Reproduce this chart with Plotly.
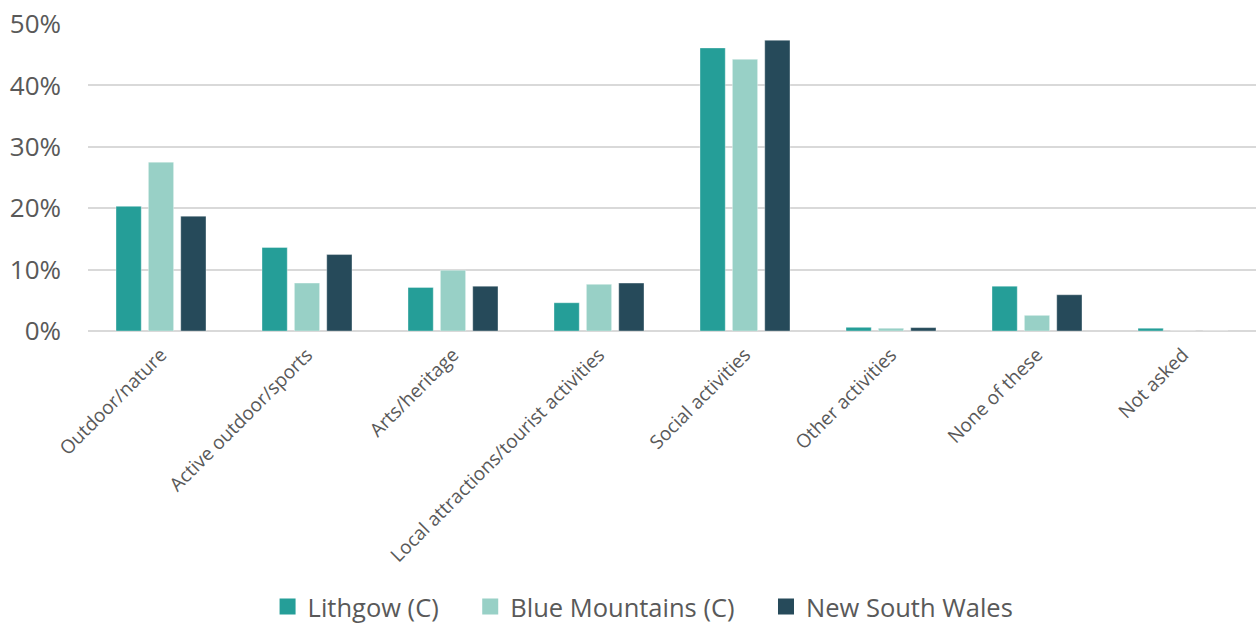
import plotly.graph_objects as go

categories = [
    "Outdoor/nature",
    "Active outdoor/sports",
    "Arts/heritage",
    "Local attractions/tourist activities",
    "Social activities",
    "Other activities",
    "None of these",
    "Not asked",
]
lithgow = [20.3, 13.6, 7.1, 4.6, 46.1, 0.6, 7.3, 0.45]
blue_mountains = [27.5, 7.8, 9.9, 7.6, 44.25, 0.45, 2.55, 0.0]
nsw = [18.7, 12.45, 7.3, 7.8, 47.35, 0.55, 5.9, 0.0]

series = [
    ("Lithgow (C)", lithgow, "#259E98"),
    ("Blue Mountains (C)", blue_mountains, "#98D0C6"),
    ("New South Wales", nsw, "#264A5A"),
]

font_family = "Open Sans, Segoe UI, sans-serif"
text_color = "#595959"
legend_pad = "\u00a0" * 4

fig = go.Figure()
for name, values, color in series:
    fig.add_trace(
        go.Bar(
            name=name,
            x=categories,
            y=[v / 100 for v in values],
            marker=dict(color=color, line=dict(color="rgba(255,255,255,0.35)", width=1)),
            showlegend=False,
        )
    )

# Legend entries with larger square swatches
for i, (name, values, color) in enumerate(series):
    label = name + (legend_pad if i < len(series) - 1 else "")
    fig.add_trace(
        go.Scatter(
            name=label,
            x=[None],
            y=[None],
            mode="markers",
            marker=dict(symbol="square", size=16, color=color),
            showlegend=True,
        )
    )

fig.update_layout(
    width=1256,
    height=626,
    margin=dict(l=88, r=0, t=24, b=295),
    paper_bgcolor="white",
    plot_bgcolor="white",
    barmode="group",
    bargap=0.335,
    bargroupgap=0.22,
    font=dict(family=font_family, color=text_color),
    showlegend=True,
    legend=dict(
        orientation="h",
        xref="container",
        yref="container",
        x=0.512,
        xanchor="center",
        y=(626 - 607) / 626,
        yanchor="middle",
        font=dict(size=25.5, color=text_color),
        itemwidth=30,
        traceorder="normal",
    ),
    xaxis=dict(
        tickangle=-45,
        tickfont=dict(size=19, color=text_color),
        showgrid=False,
        showline=False,
        ticks="",
        ticklabelstandoff=8,
        automargin=False,
    ),
    yaxis=dict(
        range=[0, 0.5],
        tickvals=[0, 0.1, 0.2, 0.3, 0.4, 0.5],
        tickformat=".0%",
        tickfont=dict(size=26, color=text_color),
        showgrid=True,
        gridcolor="#D9D9D9",
        gridwidth=1.5,
        zeroline=True,
        zerolinecolor="#D9D9D9",
        zerolinewidth=1.5,
        ticks="",
        ticklabelstandoff=26,
        automargin=False,
    ),
)

fig.write_html("out.html")
